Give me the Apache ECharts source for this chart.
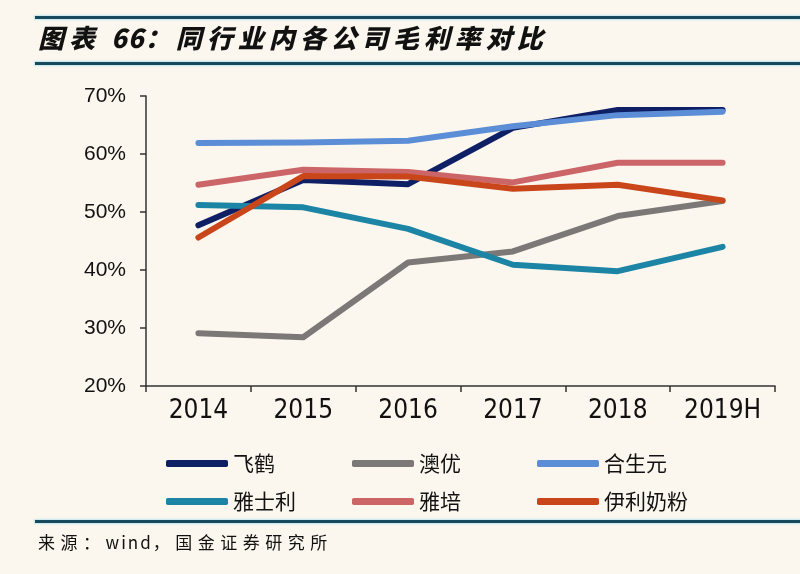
<!DOCTYPE html>
<html>
<head>
<meta charset="utf-8">
<script src="https://cdn.jsdelivr.net/npm/echarts@6/dist/echarts.min.js"></script>
<style>
  html, body { margin: 0; padding: 0; background: #fcf7ee; }
  #wrap { position: relative; width: 800px; height: 574px; background: #fcf7ee; overflow: hidden; }
  #chart { position: absolute; left: 0; top: 0; width: 800px; height: 574px; }
  .hline { position: absolute; left: 35px; right: 0; height: 3px; background: #184a5e; box-shadow: 0 0 2px 1px #bde6ee; }
  #title { position: absolute; left: 38px; top: 21px; font-family: "Noto Sans CJK SC", sans-serif; font-weight: 900; font-style: italic; font-size: 26px; letter-spacing: 5px; color: #111; line-height: 32px; white-space: nowrap; }
  #title .num { letter-spacing: 1px; }
  #source { position: absolute; left: 38px; top: 531px; font-family: "Noto Sans CJK SC", sans-serif; font-size: 17px; letter-spacing: 5.5px; color: #111; line-height: 22px; white-space: nowrap; }
  #source .lat { letter-spacing: 2px; }
</style>
</head>
<body>
<div id="wrap">
  <div id="chart"></div>
  <div class="hline" style="top:16px"></div>
  <div class="hline" style="top:62px"></div>
  <div class="hline" style="top:520px"></div>
  <div id="title">图表 <span class="num">66</span>：同行业内各公司毛利率对比</div>
  <div id="source">来源：<span class="lat">wind</span>，国金证券研究所</div>
</div>
<script>
const categories = ['2014', '2015', '2016', '2017', '2018', '2019H'];
const seriesNames = ['飞鹤', '澳优', '合生元', '雅士利', '雅培', '伊利奶粉'];
const feihe = [47.7, 55.5, 54.8, 64.5, 67.6, 67.6];
const aoyou = [29.1, 28.4, 41.3, 43.2, 49.3, 51.9];
const heshengyuan = [61.9, 62.0, 62.3, 64.8, 66.7, 67.3];
const yashili = [51.2, 50.8, 47.1, 40.9, 39.8, 44.0];
const yapei = [54.7, 57.3, 56.9, 55.1, 58.5, 58.5];
const yili = [45.6, 56.2, 56.1, 54.0, 54.7, 52.0];
const yTicks = [20, 30, 40, 50, 60, 70];

const colors = ['#0f1f66', '#7d7878', '#5b8ed6', '#1c84a4', '#cc6567', '#c9461b'];
const values = [feihe, aoyou, heshengyuan, yashili, yapei, yili];

const chart = echarts.init(document.getElementById('chart'), null, { renderer: 'canvas' });

const legendPos = [
  { left: 161, top: 448 }, { left: 347, top: 448 }, { left: 532, top: 448 },
  { left: 161, top: 486 }, { left: 347, top: 486 }, { left: 532, top: 486 }
];

const option = {
  backgroundColor: 'transparent',
  animation: false,
  color: colors,
  grid: { left: 146, right: 25, top: 96, bottom: 188, containLabel: false },
  legend: seriesNames.map((n, i) => ({
    data: [n],
    left: legendPos[i].left,
    top: legendPos[i].top,
    icon: 'roundRect',
    itemWidth: 62,
    itemHeight: 7,
    textStyle: { fontFamily: 'Noto Sans CJK SC', fontSize: 21, color: '#111' }
  })),
  xAxis: {
    type: 'category',
    data: categories,
    boundaryGap: true,
    axisLine: { lineStyle: { color: '#333', width: 1.5 } },
    axisTick: { show: true, length: 6, lineStyle: { color: '#333', width: 1.5 } },
    axisLabel: { margin: 12, fontSize: 26, color: '#111', fontFamily: '"Liberation Sans Narrow", "DejaVu Sans Condensed", sans-serif' },
    splitLine: { show: false }
  },
  yAxis: {
    type: 'value',
    min: yTicks[0],
    max: yTicks[yTicks.length - 1],
    interval: 10,
    axisLine: { show: true, lineStyle: { color: '#333', width: 1.5 } },
    axisTick: { show: true, length: 6, lineStyle: { color: '#333', width: 1.5 } },
    axisLabel: { margin: 20, fontSize: 21, color: '#111', fontFamily: '"Liberation Sans", sans-serif', formatter: '{value}%' },
    splitLine: { show: false }
  },
  series: seriesNames.map((n, i) => ({
    name: n,
    type: 'line',
    data: values[i],
    symbol: 'none',
    z: 2 + i,
    lineStyle: { width: 6, color: colors[i], cap: 'round', join: 'round' },
    itemStyle: { color: colors[i] }
  }))
};
chart.setOption(option);
</script>
</body>
</html>
